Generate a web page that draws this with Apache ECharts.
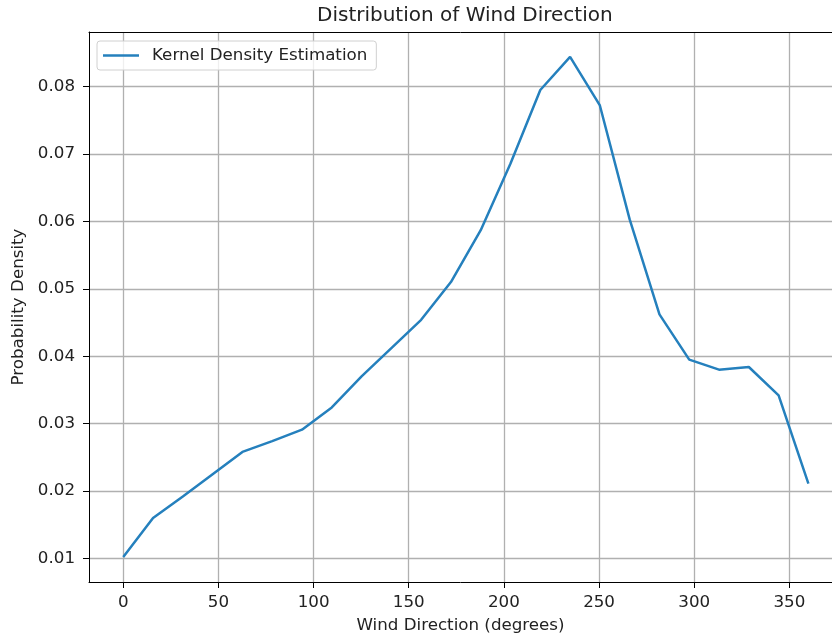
<!DOCTYPE html>
<html>
<head>
<meta charset="utf-8">
<script src="https://cdn.jsdelivr.net/npm/echarts@6/dist/echarts.min.js"></script>
<style>
  html, body { margin: 0; padding: 0; background: #ffffff; }
  #chart { width: 832px; height: 639px; }
</style>
</head>
<body>
<div id="chart"></div>
<script>
// Wind direction sample points (degrees) and estimated density at each
const directions = [0, 15.65, 31.30, 46.96, 62.61, 78.26, 93.91, 109.57, 125.22, 140.87,
  156.52, 172.17, 187.83, 203.48, 219.13, 234.78, 250.43, 266.09, 281.74, 297.39,
  313.04, 328.70, 344.35, 360];
const density = [0.0102, 0.0160, 0.0192, 0.0225, 0.0258, 0.0274, 0.0291, 0.0324, 0.0370, 0.0412,
  0.0454, 0.0510, 0.0587, 0.0686, 0.0795, 0.0844, 0.0772, 0.0603, 0.0462, 0.0395,
  0.0380, 0.0384, 0.0342, 0.0211];
const xTicks = [0, 50, 100, 150, 200, 250, 300, 350];
const yTicks = [0.01, 0.02, 0.03, 0.04, 0.05, 0.06, 0.07, 0.08];

const FONT = 'DejaVu Sans';
const TEXT = '#222222';
const GRID = '#b0b0b0';
const X_MIN = -18;
const X_MAX = 372.4;   // plot runs past the right edge of the canvas

const chart = echarts.init(document.getElementById('chart'), null, { renderer: 'canvas' });

chart.setOption({
  backgroundColor: '#ffffff',
  animation: false,
  title: {
    text: 'Distribution of Wind Direction',
    left: 317,
    top: 6,
    padding: 0,
    textStyle: { fontFamily: FONT, fontSize: 20, fontWeight: 'normal', color: TEXT }
  },
  legend: {
    left: 97,
    top: 41,
    orient: 'vertical',
    padding: [6, 9, 6, 6],
    icon: 'rect',
    itemWidth: 36,
    itemHeight: 2.5,
    borderColor: '#d0d0d0',
    borderWidth: 1,
    borderRadius: 3,
    backgroundColor: 'rgba(255,255,255,0.8)',
    textStyle: { fontFamily: FONT, fontSize: 16.7, color: TEXT, padding: [0, 0, 0, 8] },
    data: ['Kernel Density Estimation']
  },
  grid: {
    left: 89,
    right: 0,
    top: 32,
    bottom: 56,
    show: false
  },
  xAxis: [{
    type: 'value',
    min: X_MIN,
    max: X_MAX,
    name: 'Wind Direction (degrees)',
    nameLocation: 'middle',
    nameGap: 35,
    nameTextStyle: { fontFamily: FONT, fontSize: 16.7, color: TEXT },
    axisLine: { show: true, onZero: false, lineStyle: { color: '#000000', width: 1 } },
    axisTick: { show: true, length: 6, customValues: xTicks, lineStyle: { color: '#000000', width: 1 } },
    axisLabel: { customValues: xTicks, margin: 12, fontFamily: FONT, fontSize: 16.7, color: TEXT },
    splitLine: { show: true, lineStyle: { color: GRID, width: 1.3 } }
  }, {
    // top frame edge only
    type: 'value',
    position: 'top',
    min: X_MIN,
    max: X_MAX,
    axisLine: { show: true, onZero: false, lineStyle: { color: '#000000', width: 1 } },
    axisTick: { show: false },
    axisLabel: { show: false },
    splitLine: { show: false }
  }],
  yAxis: {
    type: 'value',
    min: 0.0065,
    max: 0.0881,
    name: 'Probability Density',
    nameLocation: 'middle',
    nameGap: 62,
    nameTextStyle: { fontFamily: FONT, fontSize: 16.7, color: TEXT },
    axisLine: { show: true, onZero: false, lineStyle: { color: '#000000', width: 1 } },
    axisTick: { show: true, length: 6, customValues: yTicks, lineStyle: { color: '#000000', width: 1 } },
    axisLabel: {
      customValues: yTicks, margin: 14, fontFamily: FONT, fontSize: 16.7, color: TEXT,
      formatter: v => v.toFixed(2)
    },
    splitLine: { show: true, lineStyle: { color: GRID, width: 1.3 } }
  },
  series: [{
    name: 'Kernel Density Estimation',
    type: 'line',
    xAxisIndex: 0,
    data: directions.map((d, i) => [d, density[i]]),
    showSymbol: false,
    symbol: 'none',
    lineStyle: { color: '#2580bd', width: 2.5 },
    itemStyle: { color: '#2580bd' },
    z: 5
  }]
});
</script>
</body>
</html>
